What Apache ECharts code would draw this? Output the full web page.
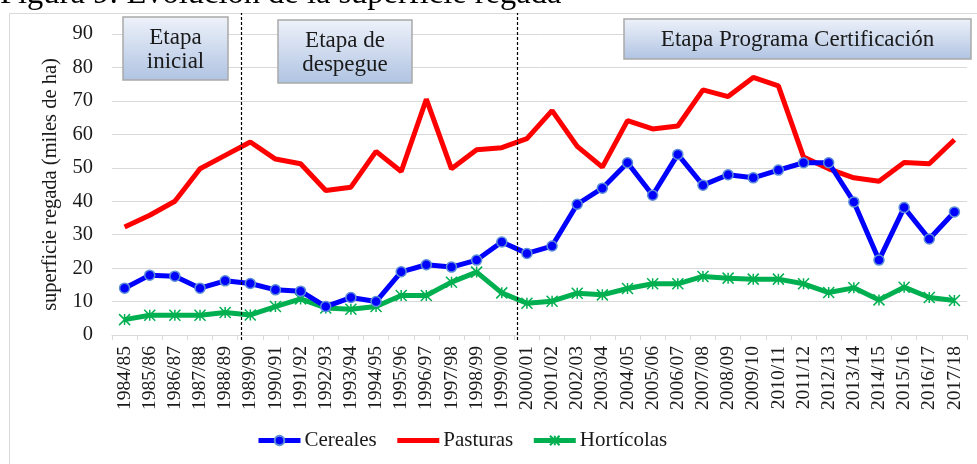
<!DOCTYPE html>
<html>
<head>
<meta charset="utf-8">
<script src="https://cdn.jsdelivr.net/npm/echarts@6/dist/echarts.min.js"></script>
<style>
  html, body { margin: 0; padding: 0; background: #fff; }
  #grafico { width: 977px; height: 464px; }
</style>
</head>
<body>
<div id="grafico"></div>
<script>
// campañas agrícolas
var campanias = ['1984/85', '1985/86', '1986/87', '1987/88', '1988/89', '1989/90', '1990/91', '1991/92',
  '1992/93', '1993/94', '1994/95', '1995/96', '1996/97', '1997/98', '1998/99', '1999/00', '2000/01',
  '2001/02', '2002/03', '2003/04', '2004/05', '2005/06', '2006/07', '2007/08', '2008/09', '2009/10',
  '2010/11', '2011/12', '2012/13', '2013/14', '2014/15', '2015/16', '2016/17', '2017/18']

// superficie regada, miles de ha
var cereales = [14.0, 17.9, 17.6, 14.0, 16.2, 15.4, 13.5, 13.1, 8.5, 11.2, 10.0, 18.9, 21.0, 20.3, 22.4, 27.8,
  24.4, 26.6, 39.1, 43.9, 51.5, 41.8, 54.0, 44.8, 47.9, 47.0, 49.3, 51.5, 51.5, 39.8, 22.4, 38.1, 28.7, 36.8]
var pasturas = [32.3, 35.8, 40.0, 49.7, 53.7, 57.7, 52.6, 51.2, 43.2, 44.2, 54.9, 48.9, 70.5, 49.7, 55.4, 56.0,
  58.7, 67.1, 56.4, 50.2, 64.1, 61.6, 62.5, 73.3, 71.3, 77.0, 74.5, 53.2, 49.7, 47.0, 46.0, 51.6, 51.2, 58.4]
var horticolas = [4.6, 5.9, 5.9, 5.9, 6.7, 6.0, 8.5, 10.8, 8.1, 7.7, 8.5, 11.8, 11.8, 15.8, 18.8, 12.6,
  9.5, 10.1, 12.5, 12.0, 13.9, 15.3, 15.3, 17.5, 17.0, 16.7, 16.7, 15.3, 12.7, 14.1, 10.5, 14.3, 11.2, 10.3]

// limites entre etapas (en unidades de categoria desde el borde izquierdo)
var etapaLimites = [5.12, 16.1]

var serif = 'Liberation Serif'
var fondoCaja = new echarts.graphic.LinearGradient(0, 0, 0, 1, [
  { offset: 0, color: '#eef2fa' },
  { offset: 1, color: '#afc3e2' }
])

function caja (x, y, w, h, texto) {
  return [
    {
      type: 'rect',
      shape: { x: x, y: y, width: w, height: h },
      style: { fill: fondoCaja, stroke: '#a9a9a9', lineWidth: 1.5 },
      z: 10
    },
    {
      type: 'text',
      style: {
        text: texto, x: x + w / 2, y: y + h / 2 + 1, align: 'center', verticalAlign: 'middle',
        font: '23px "' + serif + '"', fill: '#1a1a1a', lineHeight: 24
      },
      z: 11
    }
  ]
}

var chart = echarts.init(document.getElementById('grafico'))

var option = {
  animation: false,
  backgroundColor: '#fff',
  graphic: [
    {
      type: 'rect',
      shape: { x: 9.5, y: 13.5, width: 1000, height: 500 },
      style: { fill: 'none', stroke: '#d9d9d9', lineWidth: 1 },
      z: -1
    },
    {
      type: 'text',
      style: {
        text: 'Figura 9: Evolución de la superficie regada', x: 0, y: 11,
        verticalAlign: 'bottom', font: '32.5px "' + serif + '"', fill: '#000'
      }
    }
  ].concat(
    caja(123, 17, 105, 63, 'Etapa\ninicial'),
    caja(278, 20, 134, 63, 'Etapa de\ndespegue'),
    caja(624, 19, 347, 40, 'Etapa Programa Certificación')
  ),
  legend: {
    data: [
      { name: 'Cereales' },
      { name: 'Pasturas', itemStyle: { opacity: 0 } },
      { name: 'Hortícolas' }
    ],
    left: 256,
    top: 430,
    padding: 0,
    itemWidth: 42,
    itemHeight: 12,
    itemGap: 18,
    lineStyle: { width: 5 },
    textStyle: { fontFamily: serif, fontSize: 21, color: '#1a1a1a', padding: [0, 0, 0, -1] }
  },
  grid: [
    { left: 112, right: 10, top: 34, bottom: 129 },
    { left: 112, right: 10, top: 13, bottom: 124 }
  ],
  xAxis: [
    {
      type: 'category',
      data: campanias,
      boundaryGap: true,
      axisLine: { lineStyle: { color: '#d9d9d9', width: 1 } },
      axisTick: { show: true, length: 5, lineStyle: { color: '#d9d9d9' } },
      axisLabel: { rotate: 90, margin: 11, interval: 0, fontFamily: serif, fontSize: 19.5, color: '#1a1a1a' }
    },
    { gridIndex: 1, type: 'value', min: 0, max: campanias.length, show: false }
  ],
  yAxis: [
    {
      type: 'value',
      min: 0,
      max: 90,
      interval: 10,
      name: 'superficie regada (miles de ha)',
      nameLocation: 'middle',
      nameGap: 50,
      nameTextStyle: { fontFamily: serif, fontSize: 20.5, color: '#1a1a1a' },
      axisLine: { show: false },
      axisTick: { show: false },
      axisLabel: { margin: 19, fontFamily: serif, fontSize: 20.5, color: '#1a1a1a' },
      splitLine: { lineStyle: { color: '#d9d9d9', width: 1 } }
    },
    { gridIndex: 1, type: 'value', min: 0, max: 1, show: false }
  ],
  series: [
    {
      name: 'Cereales',
      type: 'line',
      data: cereales,
      color: '#0000ff',
      lineStyle: { width: 5, color: '#0000ff' },
      symbol: 'circle',
      symbolSize: 10,
      itemStyle: { color: '#0000ff', borderColor: '#5b8ed6', borderWidth: 1.5 },
      z: 4
    },
    {
      name: 'Pasturas',
      type: 'line',
      data: pasturas,
      color: '#ff0000',
      lineStyle: { width: 5, color: '#ff0000' },
      symbol: 'none',
      z: 3
    },
    {
      name: 'Hortícolas',
      type: 'line',
      data: horticolas,
      color: '#00b050',
      lineStyle: { width: 5, color: '#00b050' },
      symbol: 'path://M0,0L10,10M10,0L0,10M5,0L5,10',
      symbolSize: 11,
      itemStyle: { color: 'rgba(0,0,0,0)', borderColor: '#00b050', borderWidth: 1.5 },
      z: 3
    },
    {
      name: 'limites',
      type: 'line',
      xAxisIndex: 1,
      yAxisIndex: 1,
      data: [],
      markLine: {
        silent: true,
        symbol: 'none',
        label: { show: false },
        lineStyle: { color: '#000', type: [3, 2], width: 1.2 },
        data: etapaLimites.map(function (v) { return { xAxis: v } })
      },
      z: 2
    }
  ]
}

chart.setOption(option)
</script>
</body>
</html>
